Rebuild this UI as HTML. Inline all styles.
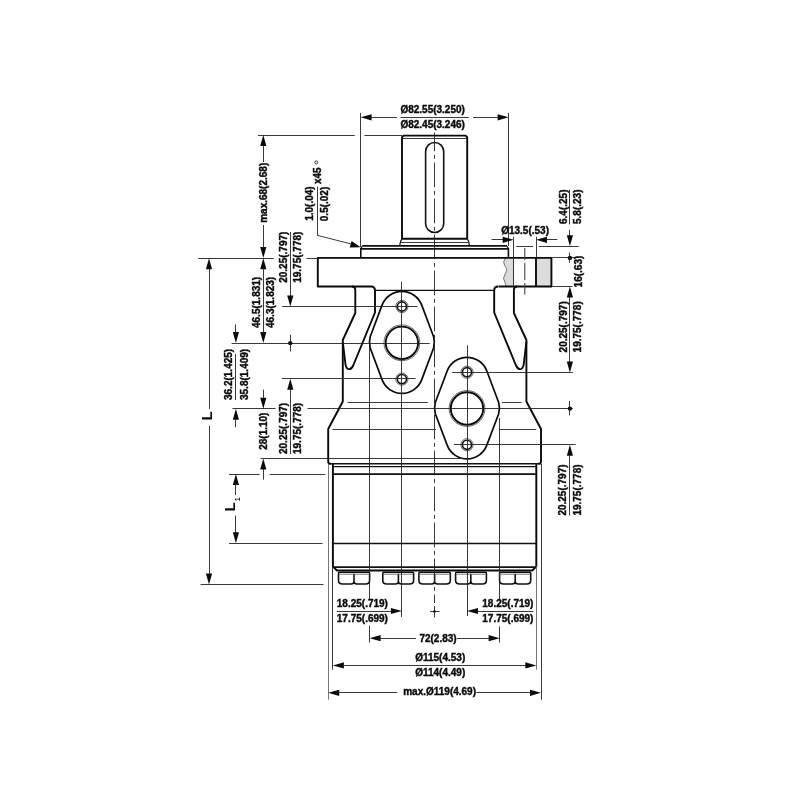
<!DOCTYPE html>
<html><head><meta charset="utf-8"><title>Dimension drawing</title>
<style>
html,body{margin:0;padding:0;background:#fff;}
body{width:800px;height:800px;overflow:hidden;font-family:"Liberation Sans",sans-serif;}
svg{display:block;filter:grayscale(1);}
.k{stroke:#0a0a0a;stroke-width:1.9;fill:none;stroke-linejoin:round;stroke-linecap:butt;}
.pk{stroke:#0a0a0a;stroke-width:1.7;fill:#fff;stroke-linejoin:round;}
.m{stroke:#111;stroke-width:1.35;fill:none;stroke-linejoin:round;}
.k2{stroke:#111;stroke-width:1.6;fill:none;}
.m2{stroke:#333;stroke-width:1;fill:none;}
.t{stroke:#222;stroke-width:0.9;fill:none;}
.h{stroke:#666;stroke-width:1;fill:none;}
.w{stroke:#555;stroke-width:0.8;fill:none;}
.g{fill:#dcdcdc;stroke:none;}
.nf{fill:none;}
.c{stroke:#222;stroke-width:0.9;fill:none;stroke-dasharray:24.75 3.75 3.75 3.75;stroke-dashoffset:6;}
.c2{stroke:#444;stroke-width:1.1;fill:none;}
.tg{stroke:#666;stroke-width:0.9;fill:none;}
.a{fill:#0a0a0a;stroke:none;}
.tx{font-family:"Liberation Sans",sans-serif;font-size:10px;fill:#0a0a0a;font-weight:bold;stroke:#0a0a0a;stroke-width:0.4px;}
.big{font-family:"Liberation Sans",sans-serif;font-size:15px;font-weight:bold;fill:#0a0a0a;}
.sub{font-family:"Liberation Sans",sans-serif;font-size:7px;fill:#0a0a0a;font-weight:bold;}
</style></head>
<body>
<svg width="800" height="800" viewBox="0 0 800 800">
<rect x="0" y="0" width="800" height="800" fill="#ffffff"/>
<g opacity="0.999">
<path class="k" d="M402,238.7 L402,137.2 L403.6,135.6 L465.6,135.6 L467.2,137.2 L467.2,238.7"/>
<line class="t" x1="402" y1="138.5" x2="467.2" y2="138.5"/>
<rect class="k2" x="425.6" y="142.5" width="18.1" height="90" rx="9.05" ry="9.05"/>
<path class="k" d="M402,238.7 L467.2,238.7"/>
<path class="m" d="M402,238.7 Q400.2,241 399.6,246 M467.2,238.7 Q469.0,241 469.6,246"/>
<line class="t" x1="400.6" y1="242.5" x2="468.6" y2="242.5"/>
<path class="k2" d="M362.2,245.9 L507.0,245.9"/>
<path class="k2" d="M360.8,258 L360.8,248.9 L508.4,248.9 L508.4,258"/>
<path class="m" d="M360.8,248.8 L362.2,246.2 M508.4,248.8 L507.0,246.2"/>
<path class="g" d="M505.6,258 Q502.2,262 504.6,265.5 Q508.2,269.5 505.2,274 Q502,278.5 504.8,282 Q506.4,284.5 505.4,286.5 L513.6,286.5 L513.6,258 Z"/>
<rect class="g" x="536" y="258" width="16.2" height="28.5"/>
<path class="w" d="M505.6,258 Q502.2,262 504.6,265.5 Q508.2,269.5 505.2,274 Q502,278.5 504.8,282 Q506.4,284.5 505.4,286.5"/>
<path class="k" d="M371,286.5 L317.8,286.5 L317.8,257.9 L551.4,257.9 L551.4,286.5 L498.6,286.5"/>
<line class="m2" x1="513.5" y1="258" x2="513.5" y2="286.5"/>
<line class="k" x1="536" y1="258" x2="536" y2="286.5"/>
<path class="k" d="M352,286.5 Q355.3,286.5 355.3,289.8 L355.3,313 L342.8,340 L342.8,401.5 L328.2,429 L328.2,461.5 Q328.2,463.8 330.6,463.8"/>
<path class="k" d="M371,286.5 Q375,286.5 375,290.6 L375,312.5 L353.2,365.5 Q351,370.2 347.8,368.8 Q345.6,367.6 345.2,362 L342.8,342"/>
<path class="k" d="M517.2,286.5 Q513.9,286.5 513.9,289.8 L513.9,313 L526.4,340 L526.4,401.5 L541.0,429 L541.0,461.5 Q541.0,463.8 538.6,463.8"/>
<path class="k" d="M498.2,286.5 Q494.2,286.5 494.2,290.6 L494.2,312.5 L516.0,365.5 Q518.2,370.2 521.4,368.8 Q523.6,367.6 524.0,362 L526.4,342"/>
<path class="m" d="M375,290.3 L494.2,290.3"/>
<path class="k2" d="M328.6,463.7 L540.6,463.7"/>
<line class="m" x1="333" y1="466.6" x2="536.2" y2="466.6"/>
<path class="k" d="M332.9,464 L332.9,566.6 L337,570.5 L532.2,570.5 L536.3,566.6 L536.3,464"/>
<path class="k2" d="M332.9,474.1 L536.3,474.1 M332.9,543.5 L536.3,543.5"/>
<path class="k2" d="M332.9,567.1 L536.3,567.1"/>
<path class="k2" d="M339.5,572.3 L368.6,572.3 Q369.6,572.3 369.6,573.3 L369.6,580.5 Q369.6,584 365.6,584 L357,584 Q354,584 354,581.5 Q354,584 351,584 L342.5,584 Q338.5,584 338.5,580.5 L338.5,573.3 Q338.5,572.3 339.5,572.3 Z M354,573.8 L354,582"/>
<path class="tg" d="M339.3,574.1999999999999 L368.8,574.1999999999999"/>
<path class="k2" d="M383.8,572.3 L412.6,572.3 Q413.6,572.3 413.6,573.3 L413.6,580.5 Q413.6,584 409.6,584 L401.4,584 Q398.4,584 398.4,581.5 Q398.4,584 395.4,584 L386.8,584 Q382.8,584 382.8,580.5 L382.8,573.3 Q382.8,572.3 383.8,572.3 Z M398.4,573.8 L398.4,582"/>
<path class="tg" d="M383.6,574.1999999999999 L412.8,574.1999999999999"/>
<path class="k2" d="M419.9,572.3 L449.3,572.3 Q450.3,572.3 450.3,573.3 L450.3,580.5 Q450.3,584 446.3,584 L437.6,584 Q434.6,584 434.6,581.5 Q434.6,584 431.6,584 L422.9,584 Q418.9,584 418.9,580.5 L418.9,573.3 Q418.9,572.3 419.9,572.3 Z M434.6,573.8 L434.6,582"/>
<path class="tg" d="M419.7,574.1999999999999 L449.5,574.1999999999999"/>
<path class="k2" d="M456.6,572.3 L485.4,572.3 Q486.4,572.3 486.4,573.3 L486.4,580.5 Q486.4,584 482.4,584 L473.8,584 Q470.8,584 470.8,581.5 Q470.8,584 467.8,584 L459.6,584 Q455.6,584 455.6,580.5 L455.6,573.3 Q455.6,572.3 456.6,572.3 Z M470.8,573.8 L470.8,582"/>
<path class="tg" d="M456.40000000000003,574.1999999999999 L485.59999999999997,574.1999999999999"/>
<path class="k2" d="M500.6,572.3 L529.7,572.3 Q530.7,572.3 530.7,573.3 L530.7,580.5 Q530.7,584 526.7,584 L518.2,584 Q515.2,584 515.2,581.5 Q515.2,584 512.2,584 L503.6,584 Q499.6,584 499.6,580.5 L499.6,573.3 Q499.6,572.3 500.6,572.3 Z M515.2,573.8 L515.2,582"/>
<path class="tg" d="M500.40000000000003,574.1999999999999 L529.9000000000001,574.1999999999999"/>
<path class="pk" d="M382.05,305.16 A21.2,21.2 0 0 1 421.75,305.16 L433.60,336.78 Q435.10,342.4 433.60,348.02 L421.75,379.64 A21.2,21.2 0 0 1 382.05,379.64 L370.20,348.02 Q368.70,342.4 370.20,336.78 Z"/>
<circle class="k nf" cx="401.9" cy="342.79999999999995" r="16.2"/>
<circle class="h" cx="401.9" cy="342.79999999999995" r="17.9"/>
<circle class="k2" cx="401.9" cy="306.49999999999994" r="4.6"/>
<circle class="h" cx="401.9" cy="306.49999999999994" r="6.1"/>
<circle class="k2" cx="401.9" cy="379.09999999999997" r="4.6"/>
<circle class="h" cx="401.9" cy="379.09999999999997" r="6.1"/>
<path class="pk" d="M447.16,371.03 A21.2,21.2 0 0 1 486.84,371.03 L498.69,402.48 Q500.20,408.1 498.69,413.72 L486.84,445.17 A21.2,21.2 0 0 1 447.16,445.17 L435.31,413.72 Q433.80,408.1 435.31,402.48 Z"/>
<circle class="k nf" cx="467" cy="408.5" r="16.2"/>
<circle class="h" cx="467" cy="408.5" r="17.9"/>
<circle class="k2" cx="467" cy="372.2" r="4.6"/>
<circle class="h" cx="467" cy="372.2" r="6.1"/>
<circle class="k2" cx="467" cy="444.8" r="4.6"/>
<circle class="h" cx="467" cy="444.8" r="6.1"/>
<line class="t" x1="347.5" y1="402.5" x2="427.8" y2="402.5"/>
<line class="t" x1="502" y1="402.5" x2="521.6" y2="402.5"/>
<line class="t" x1="332.5" y1="429.5" x2="436" y2="429.5"/>
<line class="t" x1="499.7" y1="429.5" x2="536.3" y2="429.5"/>
<path class="c" d="M434.5,132.5 L434.5,603"/>
<line class="t" x1="434.5" y1="606" x2="434.5" y2="617.5"/>
<line class="t" x1="430" y1="611.5" x2="439.6" y2="611.5"/>
<circle class="a" cx="434.5" cy="611.5" r="1.3"/>
<line class="t" x1="369.5" y1="343" x2="369.5" y2="599.4"/>
<line class="t" x1="369.5" y1="625.6" x2="369.5" y2="642.5"/>
<line class="t" x1="401.5" y1="281.6" x2="401.5" y2="617"/>
<line class="t" x1="467.5" y1="345.3" x2="467.5" y2="616"/>
<line class="t" x1="499.5" y1="418" x2="499.5" y2="599.4"/>
<line class="t" x1="499.5" y1="626.5" x2="499.5" y2="642.5"/>
<line class="tg" x1="328.5" y1="464" x2="328.5" y2="699.7"/>
<line class="t" x1="541.5" y1="464" x2="541.5" y2="699.7"/>
<line class="t" x1="332.5" y1="566" x2="332.5" y2="669.7"/>
<line class="tg" x1="536.5" y1="566" x2="536.5" y2="669.7"/>
<line class="t" x1="360.5" y1="113" x2="360.5" y2="247"/>
<line class="t" x1="508.5" y1="113" x2="508.5" y2="246"/>
<polygon class="a" points="360.6,117.3 371.6,114.2 371.6,120.39999999999999"/>
<polygon class="a" points="508.6,117.3 497.6,114.2 497.6,120.39999999999999"/>
<line class="t" x1="371" y1="117.5" x2="397" y2="117.5"/>
<line class="t" x1="400.4" y1="117.5" x2="468.8" y2="117.5"/>
<line class="t" x1="473" y1="117.5" x2="498.2" y2="117.5"/>
<text class="tx" x="400.4" y="112.9" text-anchor="start">Ø82.55(3.250)</text>
<text class="tx" x="400.4" y="127.6" text-anchor="start">Ø82.45(3.246)</text>
<line class="t" x1="258" y1="135.5" x2="354.7" y2="135.5"/>
<line class="t" x1="364.4" y1="135.5" x2="402" y2="135.5"/>
<polygon class="a" points="263.3,135 260.2,146 266.40000000000003,146"/>
<polygon class="a" points="263.3,258 260.2,247 266.40000000000003,247"/>
<line class="t" x1="263.5" y1="145" x2="263.5" y2="162"/>
<line class="t" x1="263.5" y1="225" x2="263.5" y2="248"/>
<text class="tx" transform="translate(267.3,222.8) rotate(-90)" text-anchor="start">max.68(2.68)</text>
<text class="tx" transform="translate(313.3,220.8) rotate(-90)" text-anchor="start">1.0(.04)</text>
<text class="tx" transform="translate(328.3,221.2) rotate(-90)" text-anchor="start">0.5(.02)</text>
<line class="t" x1="317.5" y1="186.6" x2="317.5" y2="235.6"/>
<text class="tx" transform="translate(320.6,184) rotate(-90)" text-anchor="start">x45</text>
<circle class="t nf" cx="316.3" cy="162.4" r="1.5"/>
<line class="t" x1="317.2" y1="235.3" x2="352" y2="244.2"/>
<polygon class="a" points="360.6,247.2 349.8,247.6 351.6,241"/>
<line class="t" x1="198.2" y1="258.5" x2="273.8" y2="258.5"/>
<line class="t" x1="306.5" y1="258.5" x2="317.8" y2="258.5"/>
<polygon class="a" points="209,258.2 205.9,269.2 212.1,269.2"/>
<polygon class="a" points="209,584.4 205.9,573.4 212.1,573.4"/>
<line class="t" x1="209.5" y1="268" x2="209.5" y2="409"/>
<line class="t" x1="209.5" y1="426" x2="209.5" y2="574"/>
<text class="big" transform="translate(211.8,420.6) rotate(-90)" text-anchor="start">L</text>
<line class="t" x1="200.6" y1="584.5" x2="323.5" y2="584.5"/>
<polygon class="a" points="263.3,258.2 260.2,269.2 266.40000000000003,269.2"/>
<polygon class="a" points="263.3,343.1 260.2,332.1 266.40000000000003,332.1"/>
<line class="t" x1="263.5" y1="268" x2="263.5" y2="334"/>
<text class="tx" transform="translate(259.8,328) rotate(-90)" text-anchor="start">46.5(1.831)</text>
<text class="tx" transform="translate(274,328) rotate(-90)" text-anchor="start">46.3(1.823)</text>
<line class="t" x1="231.6" y1="343.5" x2="429.7" y2="343.5"/>
<polygon class="a" points="235.9,343.1 232.8,332.1 239.0,332.1"/>
<line class="t" x1="235.5" y1="324.4" x2="235.5" y2="333"/>
<polygon class="a" points="235.9,408.8 232.8,419.8 239.0,419.8"/>
<line class="t" x1="235.5" y1="419" x2="235.5" y2="427.2"/>
<line class="t" x1="235.5" y1="354" x2="235.5" y2="400"/>
<text class="tx" transform="translate(231.6,400) rotate(-90)" text-anchor="start">36.2(1.425)</text>
<text class="tx" transform="translate(247.5,400) rotate(-90)" text-anchor="start">35.8(1.409)</text>
<line class="t" x1="232.5" y1="408.5" x2="275.6" y2="408.5"/>
<line class="t" x1="307.5" y1="408.5" x2="572.8" y2="408.5"/>
<polygon class="a" points="263.3,408.8 260.2,397.8 266.40000000000003,397.8"/>
<line class="t" x1="263.5" y1="389.7" x2="263.5" y2="398"/>
<polygon class="a" points="263.3,458.5 260.2,469.5 266.40000000000003,469.5"/>
<line class="t" x1="263.5" y1="469" x2="263.5" y2="479.7"/>
<text class="tx" transform="translate(266.8,449.8) rotate(-90)" text-anchor="start">28(1.10)</text>
<line class="t" x1="260.6" y1="458.5" x2="462" y2="458.5"/>
<text class="tx" transform="translate(286.6,282.8) rotate(-90)" text-anchor="start">20.25(.797)</text>
<text class="tx" transform="translate(301,282.8) rotate(-90)" text-anchor="start">19.75(.778)</text>
<line class="t" x1="290.5" y1="232" x2="290.5" y2="296"/>
<polygon class="a" points="290.3,306.6 287.2,295.6 293.40000000000003,295.6"/>
<line class="t" x1="282.2" y1="306.5" x2="417.5" y2="306.5"/>
<circle class="a" cx="290.3" cy="343.1" r="2.2"/>
<line class="t" x1="290.5" y1="334.7" x2="290.5" y2="351.5"/>
<line class="t" x1="282" y1="378.5" x2="415.6" y2="378.5"/>
<polygon class="a" points="290.3,378.8 287.2,389.8 293.40000000000003,389.8"/>
<line class="t" x1="290.5" y1="389" x2="290.5" y2="454"/>
<text class="tx" transform="translate(286.6,454) rotate(-90)" text-anchor="start">20.25(.797)</text>
<text class="tx" transform="translate(301,454) rotate(-90)" text-anchor="start">19.75(.778)</text>
<line class="t" x1="229" y1="474.5" x2="259.7" y2="474.5"/>
<line class="t" x1="269.6" y1="474.5" x2="325.3" y2="474.5"/>
<polygon class="a" points="235.9,474 232.8,485 239.0,485"/>
<line class="t" x1="235.5" y1="484" x2="235.5" y2="495"/>
<line class="t" x1="235.5" y1="515.6" x2="235.5" y2="533"/>
<polygon class="a" points="235.9,543.2 232.8,532.2 239.0,532.2"/>
<line class="t" x1="229" y1="543.5" x2="322.5" y2="543.5"/>
<text class="big" transform="translate(234.9,511.5) rotate(-90)" text-anchor="start">L</text>
<text class="sub" transform="translate(239.6,501.2) rotate(-90)" text-anchor="start">1</text>
<line class="t" x1="491.6" y1="239.5" x2="503" y2="239.5"/>
<polygon class="a" points="513.6,239.8 502.6,236.70000000000002 502.6,242.9"/>
<polygon class="a" points="536,239.8 547,236.70000000000002 547,242.9"/>
<line class="t" x1="546" y1="239.5" x2="557.4" y2="239.5"/>
<line class="t" x1="513.5" y1="236.8" x2="513.5" y2="258"/>
<line class="t" x1="536.5" y1="236.8" x2="536.5" y2="258"/>
<text class="tx" x="501.2" y="233.6" text-anchor="start">Ø13.5(.53)</text>
<path class="c2" d="M524.8,248 L524.8,260 M524.8,263 L524.8,280 M524.8,283 L524.8,294.4"/>
<line class="t" x1="516.3" y1="246.5" x2="533" y2="246.5"/>
<line class="t" x1="538.8" y1="246.5" x2="578.8" y2="246.5"/>
<line class="t" x1="569.5" y1="189.7" x2="569.5" y2="224.4"/>
<line class="t" x1="569.5" y1="230" x2="569.5" y2="236"/>
<polygon class="a" points="569.9,246.3 566.8,235.3 573.0,235.3"/>
<text class="tx" transform="translate(566.6,224) rotate(-90)" text-anchor="start">6.4(.25)</text>
<text class="tx" transform="translate(581.3,224) rotate(-90)" text-anchor="start">5.8(.23)</text>
<line class="t" x1="552.2" y1="257.5" x2="578.8" y2="257.5"/>
<circle class="a" cx="569.9" cy="257.9" r="2.2"/>
<line class="t" x1="569.5" y1="252.6" x2="569.5" y2="262.7"/>
<text class="tx" transform="translate(582,287.4) rotate(-90)" text-anchor="start">16(.63)</text>
<line class="t" x1="552.2" y1="286.5" x2="572.6" y2="286.5"/>
<polygon class="a" points="569.9,286.5 566.8,297.5 573.0,297.5"/>
<line class="t" x1="569.5" y1="297" x2="569.5" y2="362"/>
<polygon class="a" points="569.9,372.4 566.8,361.4 573.0,361.4"/>
<text class="tx" transform="translate(566.6,352.4) rotate(-90)" text-anchor="start">20.25(.797)</text>
<text class="tx" transform="translate(581.4,352.4) rotate(-90)" text-anchor="start">19.75(.778)</text>
<line class="t" x1="452.2" y1="372.5" x2="572.8" y2="372.5"/>
<circle class="a" cx="569.9" cy="408.6" r="2.2"/>
<line class="t" x1="569.5" y1="401" x2="569.5" y2="415.4"/>
<line class="t" x1="453.8" y1="444.5" x2="575.6" y2="444.5"/>
<polygon class="a" points="569.9,444.8 566.8,455.8 573.0,455.8"/>
<line class="t" x1="569.5" y1="455" x2="569.5" y2="515.6"/>
<text class="tx" transform="translate(566.4,515.6) rotate(-90)" text-anchor="start">20.25(.797)</text>
<text class="tx" transform="translate(581.2,515.6) rotate(-90)" text-anchor="start">19.75(.778)</text>
<text class="tx" x="336.8" y="606.9" text-anchor="start">18.25(.719)</text>
<text class="tx" x="336.8" y="621.6" text-anchor="start">17.75(.699)</text>
<line class="t" x1="336.8" y1="611.5" x2="392" y2="611.5"/>
<polygon class="a" points="401.9,611 390.9,607.9 390.9,614.1"/>
<text class="tx" x="482.3" y="606.9" text-anchor="start">18.25(.719)</text>
<text class="tx" x="482.3" y="621.6" text-anchor="start">17.75(.699)</text>
<line class="t" x1="477" y1="611.5" x2="533.4" y2="611.5"/>
<polygon class="a" points="467,611 478,607.9 478,614.1"/>
<polygon class="a" points="369.6,638.2 380.6,635.1 380.6,641.3000000000001"/>
<line class="t" x1="380" y1="638.5" x2="416" y2="638.5"/>
<text class="tx" x="419.4" y="641.7" text-anchor="start">72(2.83)</text>
<line class="t" x1="456.8" y1="638.5" x2="489" y2="638.5"/>
<polygon class="a" points="499.6,638.2 488.6,635.1 488.6,641.3000000000001"/>
<polygon class="a" points="332.9,665.4 343.9,662.3 343.9,668.5"/>
<line class="t" x1="343" y1="665.5" x2="527" y2="665.5"/>
<polygon class="a" points="536.3,665.4 525.3,662.3 525.3,668.5"/>
<text class="tx" x="415.2" y="661.3" text-anchor="start">Ø115(4.53)</text>
<text class="tx" x="415.2" y="675.8" text-anchor="start">Ø114(4.49)</text>
<polygon class="a" points="328.2,692.8 339.2,689.6999999999999 339.2,695.9"/>
<line class="t" x1="338" y1="692.5" x2="397.2" y2="692.5"/>
<text class="tx" x="403.2" y="695.2" text-anchor="start">max.Ø119(4.69)</text>
<line class="t" x1="476.3" y1="692.5" x2="531" y2="692.5"/>
<polygon class="a" points="541.0,692.8 530.0,689.6999999999999 530.0,695.9"/>
</g>
</svg>
</body></html>
